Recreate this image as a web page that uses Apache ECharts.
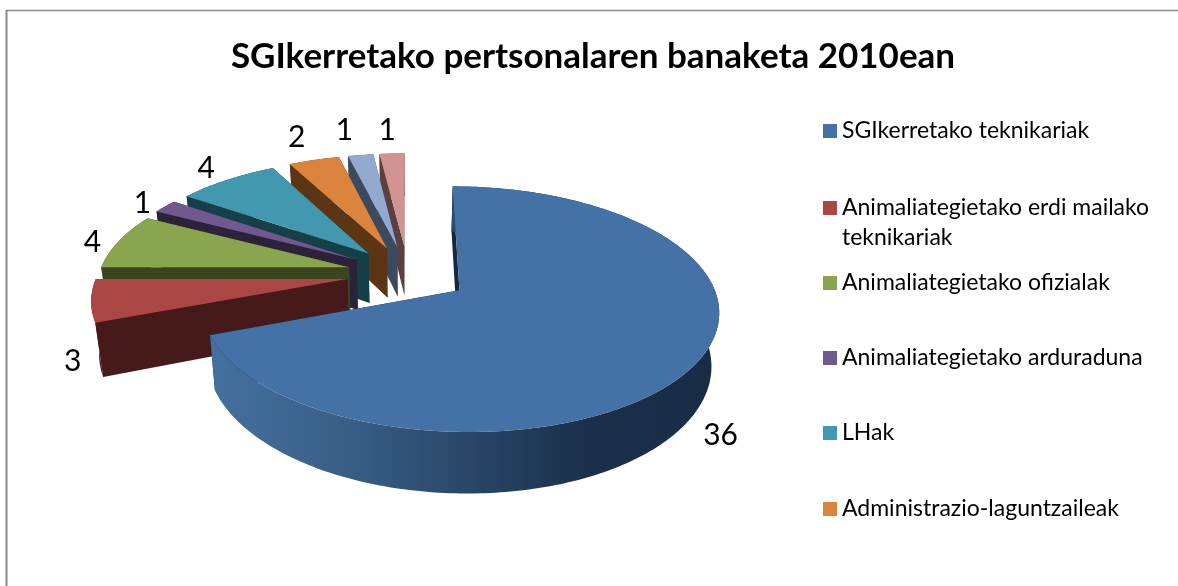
<!DOCTYPE html>
<html><head><meta charset="utf-8">
<style>html,body{margin:0;padding:0;background:#fff}#c{width:1178px;height:586px}</style>
<script src="https://cdn.jsdelivr.net/npm/echarts@6/dist/echarts.min.js"></script>
</head><body><div id="c"></div>
<script>
// ---- data ----
const titleText = 'SGIkerretako pertsonalaren banaketa 2010ean';
const categories = ['SGIkerretako teknikariak','Animaliategietako erdi mailako teknikariak','Animaliategietako ofizialak','Animaliategietako arduraduna','LHak','Administrazio-laguntzaileak','(7)','(8)'];
const values = [36,3,4,1,4,2,1,1];
const legendNames = categories.slice(0,6);
const topColors = ['#4471A6','#AA4643','#89A54E','#71588F','#4198AF','#DB843D','#93A9CF','#D19392'];
const wallColors = ['#14283F','#461A1A','#3A451F','#2C2239','#163F4A','#5C3515','#3C4A5E','#5C3F3F'];

// ---- 3D projection layout ----
const CX=408, CY=274, RX=250, RY=115, K=0.15, EXPLODE=0.245, DEPTH=51, SHRINK=0.975;
const labelNudge = [[0,62],[8,58],[-4,4],[-5,2],[-8,-5],[-11,-15],[-13,-17],[-4,-15]];
const total = values.reduce((a,b)=>a+b,0);
const rad = d=>d*Math.PI/180;
function proj(X,Y,low){
  const s=1/(1-K*Y);
  let x=CX+RX*X*s, y=CY+RY*Y*s;
  if(low){ x=CX+(x-CX)*SHRINK; y+=DEPTH*s; }
  return [x,y];
}
function renderSlice(idx){
  return function(params,api){
    const v=api.value(0);
    let before=0; for(let j=0;j<idx;j++) before+=values[j];
    const a0=before/total*360, a1=(before+v)/total*360, m=rad((a0+a1)/2);
    const ox=EXPLODE*Math.sin(m), oy=-EXPLODE*Math.cos(m);
    const pt=(t,r,low)=>proj(ox+r*Math.sin(rad(t)),oy-r*Math.cos(rad(t)),low);
    const arc=[],arcLow=[];
    const n=Math.max(4,Math.ceil(a1-a0));
    for(let i=0;i<=n;i++){const t=a0+(a1-a0)*i/n;arc.push(pt(t,1,false));arcLow.push(pt(t,1,true));}
    const apex=pt(a0,0,false),apexLow=pt(a0,0,true);
    const wall=wallColors[idx];
    const arcFill= idx===0 ? {type:'linear',x:0,y:0,x2:1,y2:0,colorStops:[
      {offset:0,color:'#44709F'},{offset:.25,color:'#3A6088'},{offset:.5,color:'#2A4768'},
      {offset:.75,color:'#1A2F4A'},{offset:1,color:'#182C44'}]} : wall;
    const lr=EXPLODE+1.1;
    const lp=proj(lr*Math.sin(m),-lr*Math.cos(m),false);
    const nd=labelNudge[idx];
    return {type:'group',children:[
      {type:'polygon',shape:{points:[apex,arc[0],arcLow[0],apexLow]},style:{fill:wall}},
      {type:'polygon',shape:{points:[apex,arc[n],arcLow[n],apexLow]},style:{fill:wall}},
      {type:'polygon',shape:{points:arc.concat(arcLow.slice().reverse())},style:{fill:arcFill}},
      {type:'polygon',shape:{points:[apex].concat(arc)},style:{fill:topColors[idx]}},
      {type:'text',x:lp[0]+nd[0],y:lp[1]+nd[1],style:{text:String(v),fill:'#000',font:'30px Lato',align:'center',verticalAlign:'middle'}}
    ]};
  };
}
const series = categories.map((name,i)=>({
  type:'custom',name,coordinateSystem:'none',data:[[values[i]]],
  renderItem:renderSlice(i),itemStyle:{color:topColors[i]},
  z:20-i,clip:false,silent:true,animation:false
}));
const legendTops=[116,163,268,343,418,494];
const legends = legendNames.map((n,i)=>({
  data:[n],left:823,top:legendTops[i],orient:'vertical',padding:0,
  icon:'rect',itemWidth:14,itemHeight:14,selectedMode:false,
  textStyle:{fontFamily:'Lato',fontSize:23,color:'#000',lineHeight:30},
  formatter:s=> s==='Animaliategietako erdi mailako teknikariak' ? '\u00a0\nAnimaliategietako erdi mailako\nteknikariak' : s
}));
const chart=echarts.init(document.getElementById('c'),null,{renderer:'canvas'});
chart.setOption({
  backgroundColor:'#fff',animation:false,
  title:{text:titleText,left:588,top:34,textAlign:'center',textStyle:{fontFamily:'Lato',fontWeight:'bold',fontSize:35,color:'#000'}},
  legend:legends,series,
  graphic:[
    {type:'line',silent:true,shape:{x1:6,y1:10.5,x2:1178,y2:10.5},style:{stroke:'#8a8a8a',lineWidth:1.5}},
    {type:'line',silent:true,shape:{x1:6.5,y1:10,x2:6.5,y2:586},style:{stroke:'#8a8a8a',lineWidth:2}}
  ]
});
</script></body></html>
